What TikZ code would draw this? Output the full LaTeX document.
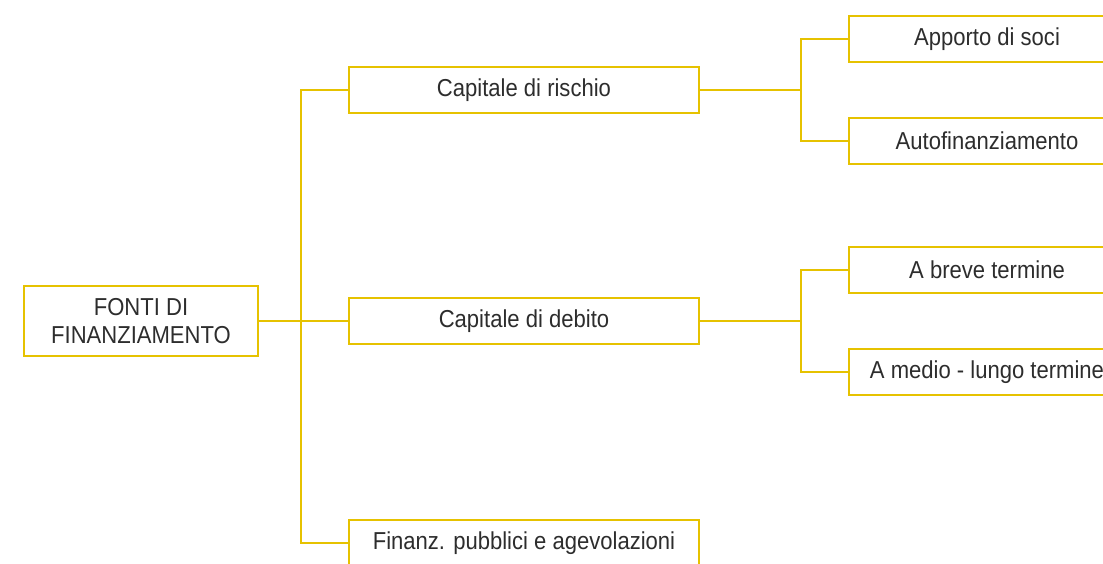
\documentclass[tikz,border=0pt]{standalone}
\usepackage{fontspec}
\setmainfont{Liberation Sans}[FakeStretch=0.9]
\definecolor{giallo}{RGB}{230,194,0}
\definecolor{testo}{RGB}{45,45,45}
\begin{document}
\begin{tikzpicture}
[x=1pt,y=1pt,line width=2pt,parent anchor=east,child anchor=west,grow'=east,
 edge from parent path={(\tikzchildnode.west) -- +(-47pt,0) |- (\tikzparentnode.east)}]
\tikzstyle{casella}=[draw=giallo, line width=2pt, rectangle, text=testo,
  font=\fontsize{24.5}{28}\selectfont, align=center, inner sep=0pt,
  minimum width=350pt, minimum height=46pt]
\tikzstyle{foglia}=[casella, minimum width=276pt]
\tikzstyle{edge from parent}=[draw=giallo, line width=2pt]
\tikzstyle{level 1}=[level distance=383pt, sibling distance=226.5pt]
\tikzstyle{level 2}=[level distance=463pt, sibling distance=102pt]
\useasboundingbox (0,0) rectangle (1103,564);
\clip (0,0) rectangle (1103,564);
\node[casella, minimum width=234pt, minimum height=70pt] (fonti) at (141,243) {FONTI DI\\FINANZIAMENTO}
child[yshift=4.5pt] {node[casella] (rischio) {Capitale di rischio}
  child {node[foglia] (soci) {Apporto di soci}}
  child {node[foglia] (autofin) {Autofinanziamento}}
}
child {node[casella] (debito) {Capitale di debito}
  child {node[foglia] (breve) {A breve termine}}
  child {node[foglia] (lungo) {A medio - lungo termine}}
}
child[yshift=4.5pt] {node[casella] (pubblici) {Finanz. pubblici e agevolazioni}};
\end{tikzpicture}
\end{document}
